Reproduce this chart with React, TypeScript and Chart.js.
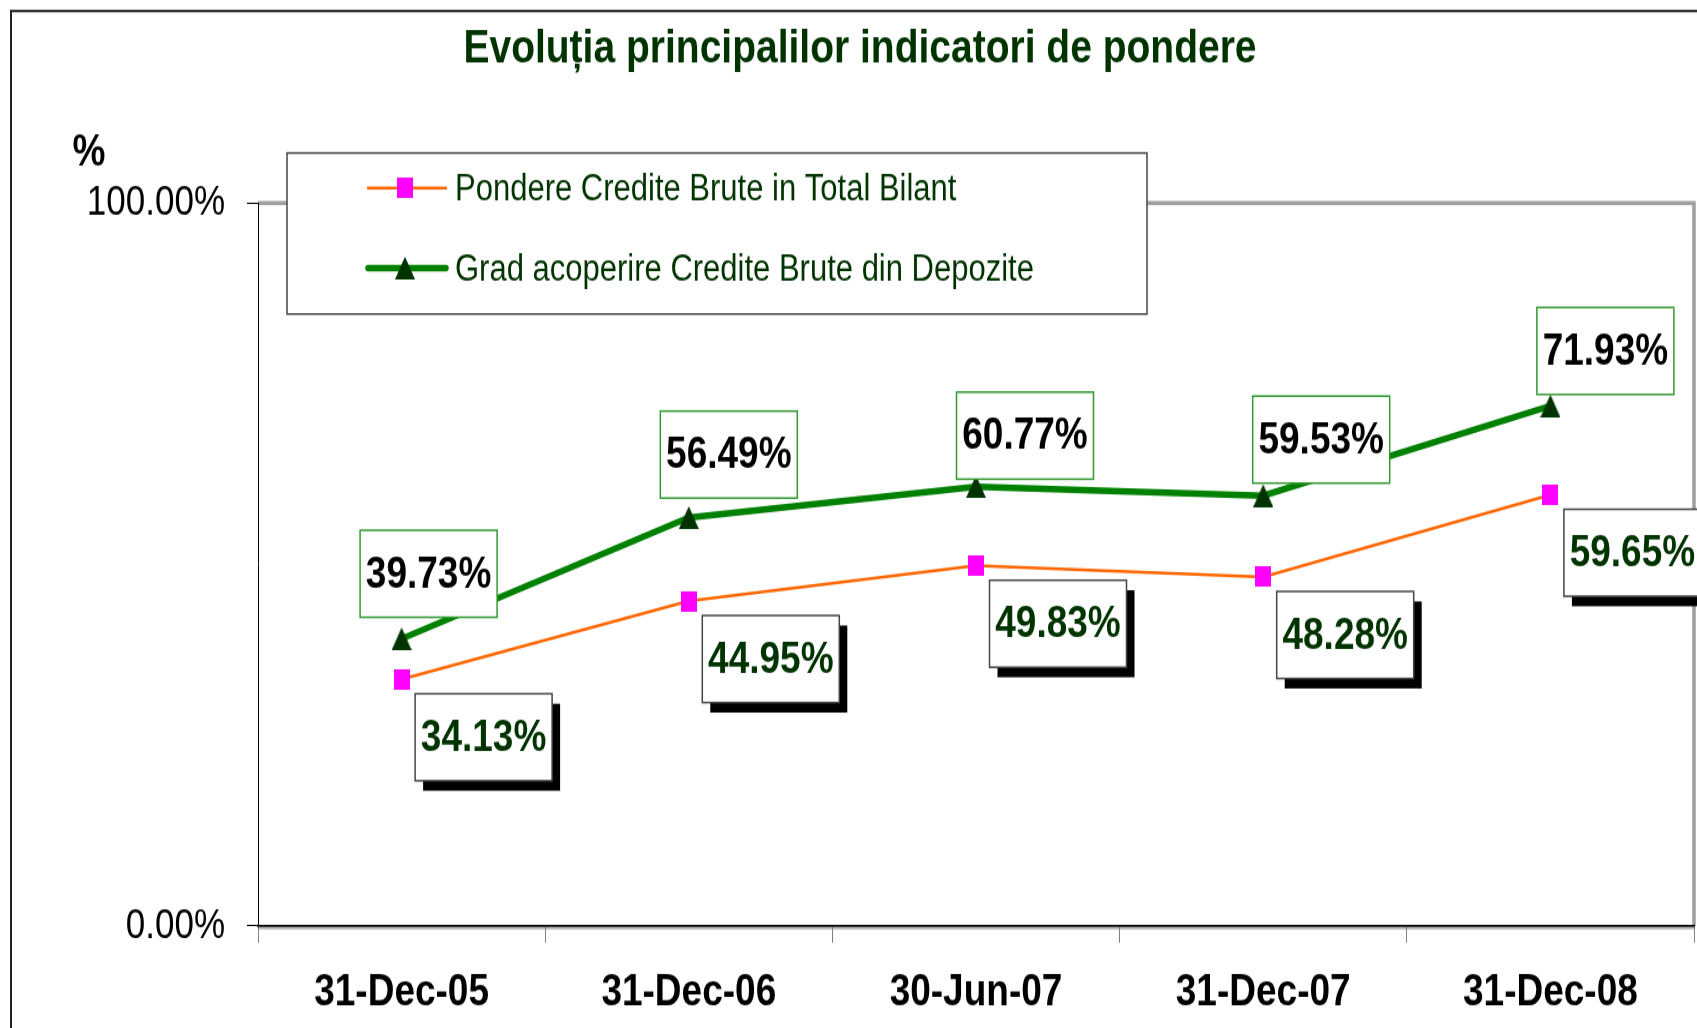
import React, { useEffect, useRef } from 'react';
import { Chart, registerables } from 'chart.js';

Chart.register(...registerables);

// ---------- data ----------
const categories = ['31-Dec-05', '31-Dec-06', '30-Jun-07', '31-Dec-07', '31-Dec-08'];
const pondereCrediteBrute = [0.3413, 0.4495, 0.4983, 0.4828, 0.5965];
const gradAcoperire = [0.3973, 0.5649, 0.6077, 0.5953, 0.7193];
const seriesNames = ['Pondere Credite Brute in Total Bilant', 'Grad acoperire Credite Brute din Depozite'];
const chartTitle = 'Evoluția principalilor indicatori de pondere';
const yAxisUnit = '%';

// ---------- layout / style ----------
// The original artwork is vertically stretched (narrow-looking text, tall markers):
// the canvas is drawn at a reduced height and stretched vertically by K.
const FULL_W = 1697;
const FULL_H = 1028;
const INT_H = 857;
const K = FULL_H / INT_H;
const Y = (v: number) => v / K;
const FONT = '"Liberation Sans", Arial, sans-serif';
const greenLabelOffsets = [[27, -65], [40, -63], [49, -51], [58, -56], [55, -55]];
const orangeLabelOffset = [82, 58];
const LABEL_W = 137;
const LABEL_H = 87;

const fmtPct = (v: number) => (v * 100).toFixed(2) + '%';

function makeRect(w: number, h: number, color: string) {
  const c = document.createElement('canvas');
  c.width = w; c.height = h;
  const g = c.getContext('2d')!;
  g.fillStyle = color;
  g.fillRect(0, 0, w, h);
  return c;
}
function makeTri(w: number, h: number, color: string) {
  const c = document.createElement('canvas');
  c.width = w; c.height = h;
  const g = c.getContext('2d')!;
  g.fillStyle = color;
  g.beginPath();
  g.moveTo(w / 2, 0);
  g.lineTo(w, h);
  g.lineTo(0, h);
  g.closePath();
  g.fill();
  return c;
}

export default function App() {
  const ref = useRef<HTMLCanvasElement>(null);
  useEffect(() => {
    const square = makeRect(16, 17, '#ff00ff');
    const tri = makeTri(20, 19, '#003300');

    const decor = {
      id: 'decor',
      beforeDraw(chart: any) {
        const ctx = chart.ctx;
        const a = chart.chartArea;
        ctx.save();
        ctx.fillStyle = '#fff';
        ctx.fillRect(0, 0, chart.width, chart.height);
        ctx.strokeStyle = '#222';
        ctx.lineWidth = 2;
        ctx.strokeRect(11, Y(11), chart.width + 50, chart.height + 50);
        ctx.textAlign = 'center';
        ctx.textBaseline = 'middle';
        ctx.fillStyle = '#003300';
        ctx.font = `bold 39px ${FONT}`;
        ctx.fillText(chartTitle, 860, Y(49));
        ctx.fillStyle = '#000';
        ctx.font = `bold 37px ${FONT}`;
        ctx.fillText(yAxisUnit, 89, Y(153));
        ctx.strokeStyle = '#a0a0a0';
        ctx.lineWidth = 3.5;
        ctx.beginPath();
        ctx.moveTo(a.left, a.top);
        ctx.lineTo(a.right, a.top);
        ctx.lineTo(a.right, a.bottom);
        ctx.stroke();
        ctx.strokeStyle = '#c0c0c0';
        ctx.lineWidth = 2;
        ctx.beginPath();
        ctx.moveTo(a.left, a.bottom + 2);
        ctx.lineTo(a.right, a.bottom + 2);
        ctx.stroke();
        ctx.restore();
      },
      afterDatasetsDraw(chart: any) {
        const ctx = chart.ctx;
        ctx.save();
        ctx.textAlign = 'center';
        ctx.textBaseline = 'middle';
        ctx.font = `bold 37px ${FONT}`;
        const W = LABEL_W, H = Y(LABEL_H);
        const mO = chart.getDatasetMeta(0);
        const mG = chart.getDatasetMeta(1);
        mO.data.forEach((pt: any, i: number) => {
          const cx = pt.x + orangeLabelOffset[0];
          const cy = pt.y + Y(orangeLabelOffset[1]);
          const x0 = cx - W / 2, y0 = cy - H / 2;
          ctx.fillStyle = '#000';
          ctx.fillRect(x0 + 8, y0 + Y(10), W, H);
          ctx.fillStyle = '#fff';
          ctx.fillRect(x0, y0, W, H);
          ctx.strokeStyle = '#444';
          ctx.lineWidth = 1.5;
          ctx.strokeRect(x0, y0, W, H);
          ctx.fillStyle = '#003300';
          ctx.fillText(fmtPct(pondereCrediteBrute[i]), cx, cy + 1);
        });
        mG.data.forEach((pt: any, i: number) => {
          const cx = pt.x + greenLabelOffsets[i][0];
          const cy = pt.y + Y(greenLabelOffsets[i][1]);
          const x0 = cx - W / 2, y0 = cy - H / 2;
          ctx.fillStyle = '#fff';
          ctx.fillRect(x0, y0, W, H);
          ctx.strokeStyle = '#339933';
          ctx.lineWidth = 1.5;
          ctx.strokeRect(x0, y0, W, H);
          ctx.fillStyle = '#000';
          ctx.fillText(fmtPct(gradAcoperire[i]), cx, cy + 1);
        });

        // legend
        const lx = 287, ly = Y(153), lw = 860, lh = Y(161);
        ctx.fillStyle = '#fff';
        ctx.fillRect(lx, ly, lw, lh);
        ctx.strokeStyle = '#444';
        ctx.lineWidth = 1.5;
        ctx.strokeRect(lx, ly, lw, lh);
        const rows = [Y(188), Y(268)];
        chart.data.datasets.forEach((ds: any, i: number) => {
          const y = rows[i];
          ctx.strokeStyle = ds.borderColor;
          ctx.lineWidth = ds.borderWidth;
          ctx.lineCap = 'round';
          ctx.beginPath();
          ctx.moveTo(368, y);
          ctx.lineTo(446, y);
          ctx.stroke();
          const img = ds.pointStyle;
          ctx.drawImage(img, 405 - img.width / 2, y - img.height / 2);
          ctx.fillStyle = '#003300';
          ctx.textAlign = 'left';
          ctx.font = `31px ${FONT}`;
          ctx.fillText(ds.label, 455, y + 2);
        });
        ctx.restore();
      },
    };

    const chart = new Chart(ref.current!, {
      type: 'line',
      data: {
        labels: categories,
        datasets: [
          {
            label: seriesNames[0],
            data: pondereCrediteBrute,
            borderColor: '#ff6600',
            borderWidth: 2.5,
            pointStyle: square as any,
            pointRadius: 10,
            tension: 0,
          },
          {
            label: seriesNames[1],
            data: gradAcoperire,
            borderColor: '#008000',
            borderWidth: 5.5,
            pointStyle: tri as any,
            pointRadius: 10,
            tension: 0,
          },
        ],
      },
      options: {
        animation: false,
        responsive: false,
        maintainAspectRatio: false,
        layout: { autoPadding: false, padding: { top: Y(203), right: 3, left: 0, bottom: 0 } },
        plugins: {
          legend: { display: false },
          title: { display: false },
          tooltip: { enabled: false },
        },
        scales: {
          x: {
            type: 'category',
            offset: true,
            grid: { offset: true, drawOnChartArea: false, drawTicks: true, tickLength: 14, color: '#808080', lineWidth: 1 },
            border: { display: true, color: '#000', width: 1.7 },
            ticks: { font: { family: FONT, size: 37, weight: 'bold' }, color: '#000', padding: 20, maxRotation: 0, autoSkip: false },
            afterFit(s: any) {
              s.height = INT_H - Y(926);
              s.paddingLeft = 0;
              s.paddingRight = 0;
            },
          },
          y: {
            min: 0,
            max: 1,
            ticks: {
              stepSize: 1,
              callback: (v: any) => fmtPct(Number(v)),
              font: { family: FONT, size: 35 },
              color: '#000',
              padding: 22,
            },
            grid: { drawOnChartArea: false, tickLength: 11, color: '#000' },
            border: { display: true, color: '#000', width: 1 },
            afterFit(s: any) { s.width = 258; },
          },
        },
      },
      plugins: [decor],
    } as any);
    return () => chart.destroy();
  }, []);

  return (
    <div style={{ position: 'fixed', left: 0, top: 0, width: FULL_W, height: FULL_H, overflow: 'hidden', background: '#fff' }}>
      <div style={{ transform: `scaleY(${K})`, transformOrigin: '0 0', width: FULL_W, height: INT_H }}>
        <canvas ref={ref} width={FULL_W} height={INT_H} style={{ display: 'block' }} />
      </div>
    </div>
  );
}
